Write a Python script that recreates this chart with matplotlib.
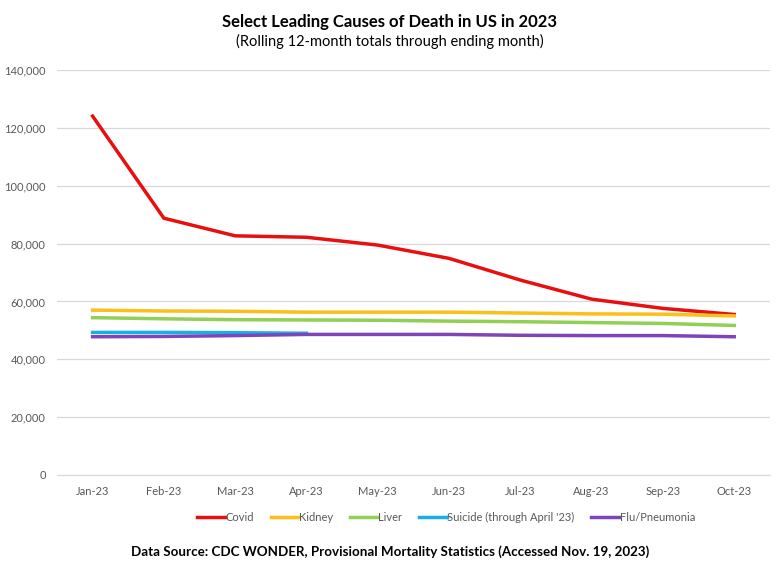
import numpy as np
import matplotlib.pyplot as plt

plt.rcParams['font.family'] = ['Lato', 'DejaVu Sans']

months = ['Jan-23', 'Feb-23', 'Mar-23', 'Apr-23', 'May-23', 'Jun-23',
          'Jul-23', 'Aug-23', 'Sep-23', 'Oct-23']
covid = [124100, 88800, 82700, 82200, 79500, 74900, 67400, 60800, 57600, 55500]
kidney = [57000, 56700, 56600, 56300, 56300, 56300, 56000, 55700, 55600, 55000]
liver = [54400, 54000, 53700, 53600, 53500, 53200, 53000, 52700, 52400, 51700]
suicide = [49300, 49300, 49200, 49000]
flu = [47800, 47900, 48200, 48600, 48600, 48600, 48300, 48200, 48200, 47800]

fig = plt.figure(figsize=(7.8, 5.75), dpi=100)
ax = fig.add_axes([0.073, 0.174, 0.914, 0.704])

x = np.arange(len(months))
lw = 2.5
ax.plot(x, covid, color='#E8100F', lw=lw, label='Covid')
ax.plot(x, kidney, color='#FBBF17', lw=lw, label='Kidney')
ax.plot(x, liver, color='#92CF55', lw=lw, label='Liver')
ax.plot(x[:len(suicide)], suicide, color='#18AEE6', lw=lw, label="Suicide (through April '23)")
ax.plot(x, flu, color='#7E44B8', lw=lw, label='Flu/Pneumonia')

ax.set_xlim(-0.5, len(months) - 0.5)
ax.set_ylim(0, 140000)
ax.set_yticks(range(0, 140001, 20000))
ax.set_yticklabels([f'{v:,}' for v in range(0, 140001, 20000)])
ax.set_xticks(x)
ax.set_xticklabels(months)
ax.tick_params(length=0, labelsize=8, labelcolor='#595959', pad=8)
ax.grid(axis='y', color='#D9D9D9', lw=0.9)
ax.set_axisbelow(True)
for s in ['top', 'right', 'left']:
    ax.spines[s].set_visible(False)
ax.spines['bottom'].set_color('#D9D9D9')

fig.text(0.5, 0.962, 'Select Leading Causes of Death in US in 2023', ha='center', va='center',
         fontsize=12, fontweight='bold')
fig.text(0.5, 0.928, '(Rolling 12-month totals through ending month)', ha='center', va='center',
         fontsize=10.5)

fig.legend(loc='center', bbox_to_anchor=(0.572, 0.1), ncol=5, frameon=False, fontsize=8,
           handlelength=2.5, handletextpad=0.05, columnspacing=1.5, labelcolor='#595959')

fig.text(0.5, 0.041, 'Data Source: CDC WONDER, Provisional Mortality Statistics (Accessed Nov. 19, 2023)',
         ha='center', va='center', fontsize=9.6, fontweight='bold')

fig.savefig('out.png', dpi=100)
